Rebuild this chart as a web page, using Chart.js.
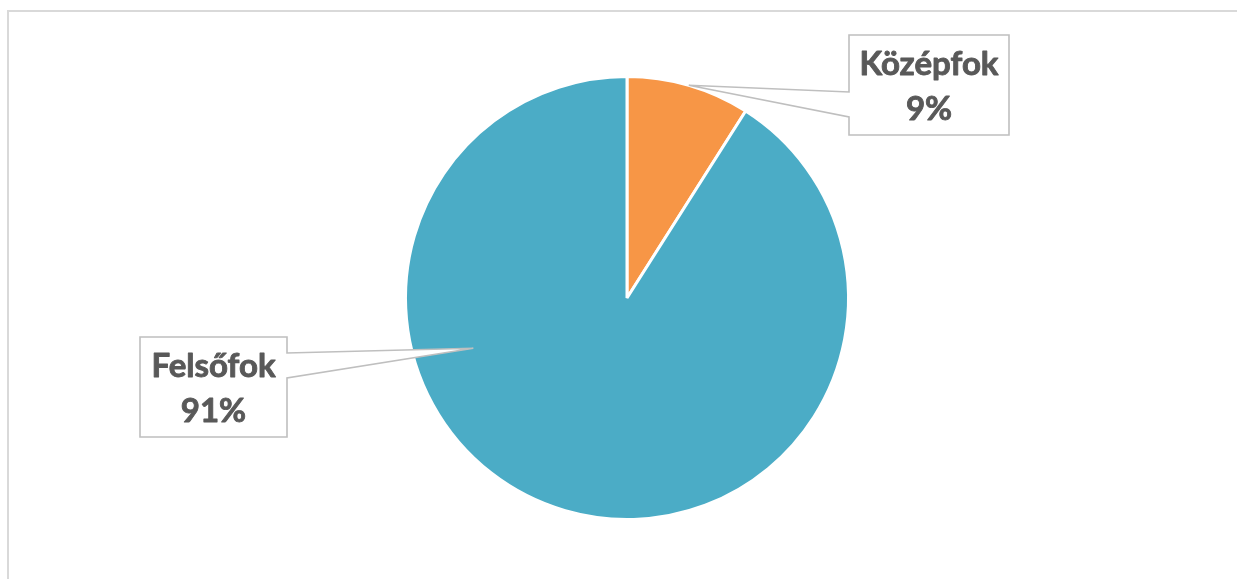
<!DOCTYPE html>
<html>
<head>
<meta charset="utf-8">
<script src="https://cdn.jsdelivr.net/npm/chart.js@4"></script>
<style>
  body { margin: 0; background: #fff; }
  #wrap { position: relative; width: 1237px; height: 579px; }
  #frame { position: absolute; left: 7px; top: 10px; right: 0; bottom: 0;
           border-top: 2px solid #d9d9d9; border-left: 2px solid #d9d9d9; }
  canvas { position: absolute; left: 0; top: 0; }
</style>
</head>
<body>
<div id="wrap">
  <div id="frame"></div>
  <canvas id="pie" width="1237" height="579"></canvas>
</div>
<script>
const labels = ['Középfok', 'Felsőfok'];
const shares = [9, 91];
const sliceColors = ['#F79646', '#4BACC6'];

// callout boxes: box rect, which side the pointer leaves from, pointer
// attach offsets along that side, and where in the slice the tip lands
const callouts = [
  { x: 849, y: 35, w: 160, h: 100, side: 'left', a1: 57, a2: 82, t: 0.5, rf: 1.0 },
  { x: 140, y: 337, w: 147, h: 100, side: 'right', a1: 16, a2: 41, t: 0.67, rf: 0.73 }
];

const calloutPlugin = {
  id: 'callouts',
  afterDatasetsDraw(chart) {
    const ctx = chart.ctx;
    const arcs = chart.getDatasetMeta(0).data;
    const total = shares.reduce((a, b) => a + b, 0);
    ctx.save();
    arcs.forEach((arc, i) => {
      const c = callouts[i];
      const p = arc.getProps(['x', 'y', 'startAngle', 'endAngle', 'outerRadius'], true);
      const ang = p.startAngle + (p.endAngle - p.startAngle) * c.t;
      const tx = p.x + Math.cos(ang) * p.outerRadius * c.rf;
      const ty = p.y + Math.sin(ang) * p.outerRadius * c.rf;

      ctx.beginPath();
      if (c.side === 'left') {
        ctx.moveTo(c.x, c.y);
        ctx.lineTo(c.x + c.w, c.y);
        ctx.lineTo(c.x + c.w, c.y + c.h);
        ctx.lineTo(c.x, c.y + c.h);
        ctx.lineTo(c.x, c.y + c.a2);
        ctx.lineTo(tx, ty);
        ctx.lineTo(c.x, c.y + c.a1);
      } else {
        ctx.moveTo(c.x, c.y);
        ctx.lineTo(c.x + c.w, c.y);
        ctx.lineTo(c.x + c.w, c.y + c.a1);
        ctx.lineTo(tx, ty);
        ctx.lineTo(c.x + c.w, c.y + c.a2);
        ctx.lineTo(c.x + c.w, c.y + c.h);
        ctx.lineTo(c.x, c.y + c.h);
      }
      ctx.closePath();
      ctx.fillStyle = '#ffffff';
      ctx.fill();
      ctx.lineWidth = 1.6;
      ctx.strokeStyle = '#bfbfbf';
      ctx.lineJoin = 'miter';
      ctx.stroke();

      // label text, thickened a little with a stroke of the same colour
      const cx = c.x + c.w / 2;
      const cy = c.y + c.h / 2;
      const pct = Math.round(shares[i] / total * 100) + '%';
      ctx.fillStyle = '#595959';
      ctx.strokeStyle = '#595959';
      ctx.lineWidth = 0.9;
      ctx.lineJoin = 'round';
      ctx.font = 'bold 33px Lato';
      ctx.textAlign = 'center';
      ctx.textBaseline = 'alphabetic';
      ctx.fillText(labels[i], cx, cy - 10);
      ctx.strokeText(labels[i], cx, cy - 10);
      ctx.fillText(pct, cx, cy + 35);
      ctx.strokeText(pct, cx, cy + 35);
    });
    ctx.restore();
  }
};

new Chart(document.getElementById('pie'), {
  type: 'pie',
  data: {
    labels: labels,
    datasets: [{
      data: shares,
      backgroundColor: sliceColors,
      borderColor: '#ffffff',
      borderWidth: 3
    }]
  },
  options: {
    responsive: false,
    animation: false,
    layout: { padding: { left: 404, right: 387, top: 75, bottom: 58 } },
    plugins: {
      legend: { display: false },
      tooltip: { enabled: false }
    }
  },
  plugins: [calloutPlugin]
});
</script>
</body>
</html>
